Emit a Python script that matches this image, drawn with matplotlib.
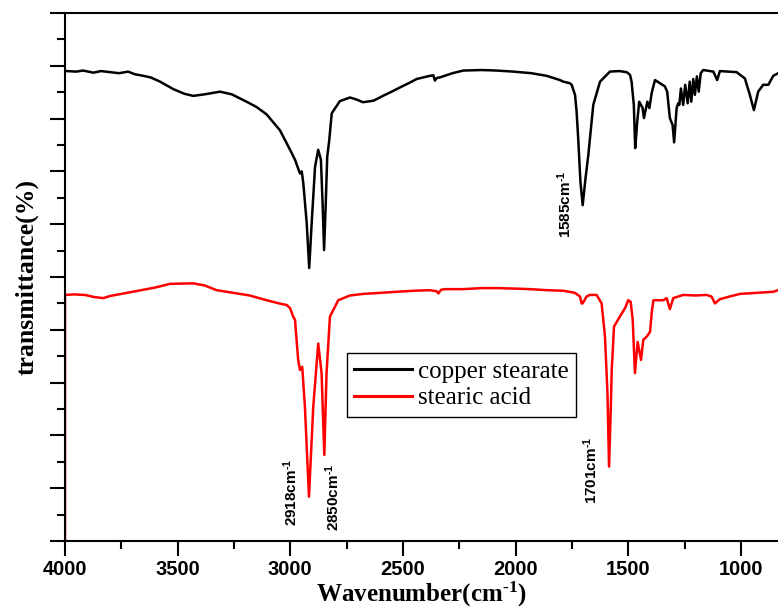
import matplotlib
matplotlib.use("Agg")
import matplotlib.pyplot as plt
from matplotlib.ticker import MultipleLocator

cu_wn = [4000, 3992, 3950, 3920, 3874, 3840, 3800, 3760, 3720, 3690, 3652, 3620,
         3578, 3520, 3470, 3431, 3380, 3312, 3260, 3194, 3150, 3105, 3046, 3001,
         2979, 2957, 2949, 2942, 2927, 2916, 2905, 2890, 2876, 2864, 2856, 2850,
         2843, 2836, 2827, 2816, 2780, 2735, 2705, 2677, 2630, 2589, 2550, 2513,
         2470, 2439, 2400, 2380, 2365, 2358, 2350, 2336, 2280, 2232, 2150, 2084,
         2010, 1930, 1862, 1803, 1788, 1759, 1751, 1736, 1729, 1722, 1712, 1702,
         1690, 1677, 1655, 1625, 1581, 1540, 1507, 1492, 1485, 1475, 1469, 1464,
         1460, 1451, 1436, 1430, 1415, 1406, 1395, 1381, 1359, 1337, 1327, 1315,
         1303, 1296, 1285, 1278, 1273, 1266, 1256, 1247, 1236, 1227, 1220, 1211,
         1204, 1195, 1187, 1178, 1167, 1122, 1105, 1093, 1019, 982, 960, 942,
         923, 901, 878, 856, 834]
cu_tr = [89.0, 89.0, 88.9, 89.1, 88.7, 89.0, 88.8, 88.6, 88.9, 88.4, 88.1, 87.8,
         87.0, 85.6, 84.7, 84.3, 84.6, 85.1, 84.6, 83.2, 82.2, 80.8, 77.8, 74.1,
         72.2, 69.6, 70.0, 67.7, 60.2, 51.7, 60.2, 70.9, 74.1, 72.2, 63.3, 55.1,
         63.3, 72.8, 75.9, 81.0, 83.3, 84.0, 83.6, 83.1, 83.4, 84.3, 85.1, 85.9,
         86.8, 87.5, 87.9, 88.1, 88.2, 87.2, 87.7, 87.8, 88.6, 89.1, 89.2, 89.1,
         88.9, 88.6, 88.1, 87.3, 87.0, 86.7, 86.4, 84.5, 81.3, 76.3, 68.0, 63.6,
         68.5, 73.1, 82.6, 87.0, 88.9, 89.0, 88.8, 88.3, 87.0, 82.6, 74.4, 77.0,
         79.4, 83.2, 82.0, 80.1, 83.2, 82.0, 85.0, 87.3, 86.7, 86.1, 85.1, 80.1,
         78.8, 75.5, 82.0, 82.9, 82.6, 85.7, 82.6, 86.4, 82.9, 87.0, 83.2, 87.5,
         84.5, 88.0, 85.1, 88.6, 89.2, 88.9, 87.3, 89.0, 88.8, 87.6, 84.5, 81.6,
         85.1, 86.4, 86.4, 88.1, 88.6]

sa_wn = [4000, 4000, 3960, 3911, 3870, 3830, 3800, 3700, 3600, 3534, 3431, 3380,
         3327, 3238, 3180, 3105, 3050, 3016, 3001, 2987, 2979, 2965, 2957, 2947,
         2935, 2917, 2898, 2876, 2861, 2849, 2839, 2824, 2787, 2735, 2676, 2600,
         2528, 2450, 2380, 2350, 2343, 2330, 2313, 2232, 2150, 2084, 2000, 1936,
         1860, 1788, 1736, 1714, 1707, 1702, 1685, 1670, 1640, 1618, 1603, 1592,
         1585, 1578, 1573, 1563, 1537, 1514, 1500, 1489, 1480, 1470, 1458, 1443,
         1433, 1418, 1403, 1395, 1388, 1344, 1329, 1315, 1300, 1256, 1200, 1152,
         1130, 1115, 1093, 1050, 1004, 930, 856, 835]
sa_tr = [0.0, 46.6, 46.7, 46.6, 46.2, 46.0, 46.4, 47.2, 48.0, 48.7, 48.8, 48.4,
         47.5, 46.9, 46.5, 45.6, 45.0, 44.7, 44.1, 42.5, 41.9, 34.3, 32.4, 33.0,
         25.4, 8.4, 25.4, 37.4, 31.8, 16.3, 31.8, 42.5, 45.6, 46.5, 46.8, 47.0,
         47.2, 47.4, 47.5, 47.3, 46.9, 47.6, 47.7, 47.7, 47.9, 47.9, 47.8, 47.7,
         47.5, 47.4, 47.0, 46.3, 45.0, 45.0, 46.3, 46.6, 46.6, 45.0, 38.7, 28.0,
         14.1, 24.0, 32.4, 40.6, 42.5, 44.1, 45.6, 45.3, 41.9, 31.8, 37.7, 34.3,
         38.1, 38.7, 39.6, 43.5, 45.6, 45.6, 46.0, 43.9, 46.0, 46.6, 46.5, 46.6,
         46.3, 45.0, 45.8, 46.3, 46.8, 47.0, 47.2, 47.5]

# peak labels: text, x position, y position
peak_labels = ["2918cm", "2850cm", "1701cm", "1585cm"]
peak_x = [2997, 2810, 1665, 1781]
peak_y = [9.3, 8.3, 13.3, 63.8]

fig = plt.figure(figsize=(7.78, 6.14), dpi=100)
ax = fig.add_axes([65 / 778, 1 - 541 / 614, 1 - 65 / 778, (541 - 13) / 614])

ax.plot(cu_wn, cu_tr, color="black", lw=1.8, label="copper stearate")
ax.plot(sa_wn, sa_tr, color="red", lw=1.8, label="stearic acid")

ax.set_xlim(4000, 835)
ax.set_ylim(0, 100)

ax.xaxis.set_major_locator(MultipleLocator(500))
ax.xaxis.set_minor_locator(MultipleLocator(250))
ax.yaxis.set_major_locator(MultipleLocator(10))
ax.yaxis.set_minor_locator(MultipleLocator(5))
ax.tick_params(axis="both", which="major", direction="out", length=11, width=1.5)
ax.tick_params(axis="both", which="minor", direction="out", length=6, width=1.5)
ax.tick_params(axis="x", pad=3)
ax.tick_params(axis="y", labelleft=False)
for lbl in ax.get_xticklabels():
    lbl.set_fontfamily("Liberation Sans")
    lbl.set_fontweight("bold")
    lbl.set_fontsize(14.5)

for side in ["left", "bottom", "top"]:
    ax.spines[side].set_linewidth(1.5)
ax.spines["right"].set_visible(False)

ax.set_xlabel("Wavenumber(cm$\\mathregular{^{\u20101}}$)",
              family="Liberation Serif", fontweight="bold", fontsize=18, labelpad=0)
ax.set_ylabel("transmittance(%)", family="Liberation Serif",
              fontweight="bold", fontsize=18.5, labelpad=8)

for txt, x, y in zip(peak_labels, peak_x, peak_y):
    ax.text(x, y, txt + "$\\mathregular{^{\u20101}}$", rotation=90, ha="center",
            va="center", family="Liberation Sans", fontweight="bold", fontsize=11)

leg = ax.legend(loc="upper left", bbox_to_anchor=(0.3955, 0.356), borderaxespad=0,
                prop={"family": "Liberation Serif", "size": 18}, fancybox=False,
                edgecolor="black", framealpha=1, handlelength=2.3,
                handletextpad=0.25, labelspacing=0.15, borderpad=0.3)
leg.get_frame().set_linewidth(1.0)
for line in leg.get_lines():
    line.set_linewidth(2.2)

fig.savefig("out.png", dpi=100)
